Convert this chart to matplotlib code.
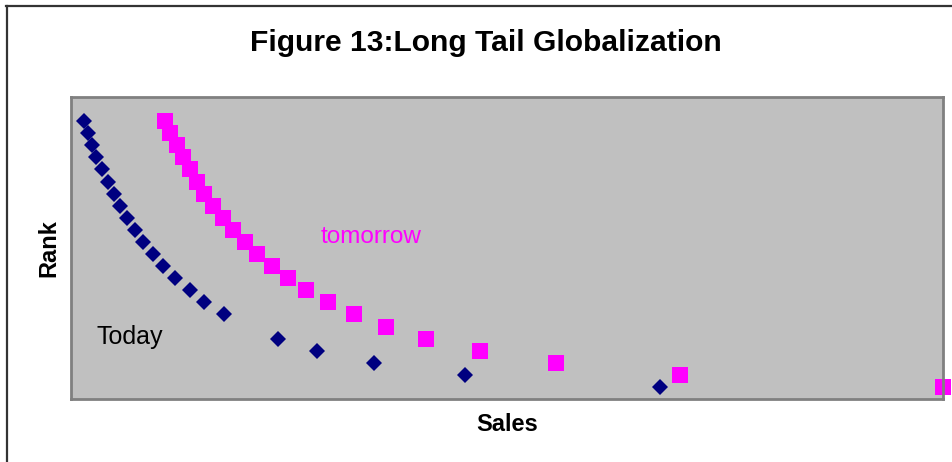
import matplotlib
matplotlib.use("Agg")
import matplotlib.pyplot as plt
from matplotlib.lines import Line2D

plt.rcParams["font.family"] = ["Liberation Sans", "DejaVu Sans"]

# Data (sales on x, rank on y)
today_sales = [15, 20, 24, 29, 36, 42, 49, 56, 64, 73, 82, 94, 106, 119, 136,
               153, 175, 237, 282, 347, 452, 675]
today_rank = [23, 22, 21, 20, 19, 18, 17, 16, 15, 14, 13, 12, 11, 10, 9,
              8, 7, 5, 4, 3, 2, 1]

tomorrow_sales = [108, 114, 121, 128, 136, 144, 153, 163, 174, 186, 199, 213,
                  230, 249, 270, 295, 324, 361, 407, 469, 556, 698, 1000]
tomorrow_rank = [23, 22, 21, 20, 19, 18, 17, 16, 15, 14, 13, 12,
                 11, 10, 9, 8, 7, 6, 5, 4, 3, 2, 1]

title = "Figure 13:Long Tail Globalization"
W, H = 953, 462

fig = plt.figure(figsize=(W / 100, H / 100), dpi=100)
fig.patch.set_facecolor("white")
ax = fig.add_axes([71 / W, 1 - 399 / H, (943 - 71) / W, (399 - 97) / H])
ax.set_facecolor("#c0c0c0")
for s in ax.spines.values():
    s.set_color("#808080")
    s.set_linewidth(2)

ax.plot(today_sales, today_rank, linestyle="none", marker="D", markersize=8.3,
        color="#000080", markeredgewidth=0, clip_on=False)
ax.plot(tomorrow_sales, tomorrow_rank, linestyle="none", marker="s", markersize=11.2,
        color="#ff00ff", markeredgewidth=0, clip_on=False)

ax.set_xlim(0, 1000)
ax.set_ylim(0, 25)
ax.set_xticks([])
ax.set_yticks([])

ax.text(286, 13.4, "tomorrow", color="#ff00ff", fontsize=17.5, va="center", ha="left")
ax.text(29.5, 5.1, "Today", color="black", fontsize=18, va="center", ha="left")

ax.set_xlabel("Sales", fontsize=17, fontweight="bold", labelpad=10)
ax.set_ylabel("Rank", fontsize=17, fontweight="bold", labelpad=8)

fig.text(486 / W, 1 - 43 / H, title, fontsize=21.6, fontweight="bold",
         ha="center", va="center")

# outer chart frame (left and top edges visible)
fig.add_artist(Line2D([7 / W, 7 / W], [0, 1 - 5.5 / H], color="#333333", lw=1.6))
fig.add_artist(Line2D([6 / W, 1], [1 - 5.5 / H, 1 - 5.5 / H], color="#333333", lw=1.6))

fig.savefig("out.png", dpi=100)
